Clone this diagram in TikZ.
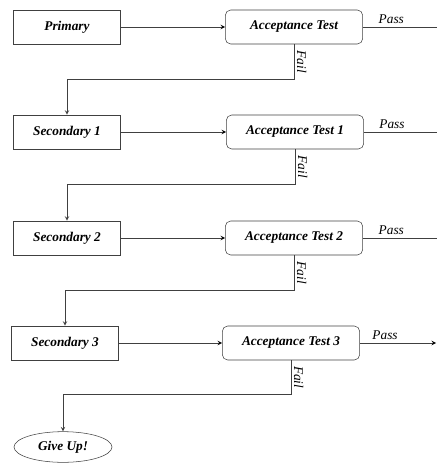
\documentclass[tikz,border=0pt]{standalone}
\usepackage{fontspec}
\setmainfont{Liberation Serif}
\usetikzlibrary{arrows,positioning,shapes.geometric}
\tikzset{
  prog/.style={rectangle,draw=black!75,minimum width=80pt,minimum height=25.5pt,
    font=\fontsize{10}{12}\selectfont\bfseries\itshape},
  test/.style={rectangle,rounded corners=4pt,draw=black!75,minimum width=103pt,minimum height=25.5pt,
    font=\fontsize{10}{12}\selectfont\bfseries\itshape},
  giveup/.style={ellipse,draw=black!75,minimum width=73.5pt,minimum height=23pt,inner sep=1pt,
    font=\fontsize{10}{12}\selectfont\bfseries\itshape},
  lbl/.style={font=\fontsize{10}{12}\selectfont\itshape,inner sep=2pt},
  wire/.style={->,>=stealth,draw=black!75,line width=0.5pt}
}
\begin{document}
\begin{tikzpicture}[x=0.75pt,y=-0.75pt]
\useasboundingbox (0,0) rectangle (436,466);
% \draw[help lines] (0,0) grid (436,466);
\node (prim) [prog] at (67,27) {Primary};
\node (at0) [test] at (294,27) {Acceptance Test};
\node (sec1) [prog] at (67,132) {Secondary 1};
\node (at1) [test] at (295,132) {Acceptance Test 1};
\node (sec2) [prog] at (67,238) {Secondary 2};
\node (at2) [test] at (294,238) {Acceptance Test 2};
\node (sec3) [prog] at (65,343) {Secondary 3};
\node (at3) [test] at (291,343) {Acceptance Test 3};
\node (give) [giveup] at (63,447) {Give Up!};
%
\coordinate (p0) at (444,27);
\coordinate (p1) at (444,132);
\coordinate (p2) at (444,238);
\coordinate (p3) at (436,343);
%
\path[wire](prim) edge (at0);
\path[wire](sec1) edge (at1);
\path[wire](sec2) edge (at2);
\path[wire](sec3) edge (at3);
%
\path[wire](at0) edge node[lbl,above,pos=0.35] {Pass} (p0);
\path[wire](at1) edge node[lbl,above,pos=0.35] {Pass} (p1);
\path[wire](at2) edge node[lbl,above,pos=0.35] {Pass} (p2);
\path[wire](at3) edge node[lbl,above,pos=0.33] {Pass} (p3);
%
\draw[wire](at0.south) -- node[lbl,rotate=-90,anchor=south] {Fail} ++(0,35) -| (sec1.north);
\draw[wire](at1.south) -- node[lbl,rotate=-90,anchor=south] {Fail} ++(0,35) -| (sec2.north);
\draw[wire](at2.south) -- node[lbl,rotate=-90,anchor=south] {Fail} ++(0,35) -| (sec3.north);
\draw[wire](at3.south) -- node[lbl,rotate=-90,anchor=south] {Fail} ++(0,34) -| (give.north);
\end{tikzpicture}
\end{document}
